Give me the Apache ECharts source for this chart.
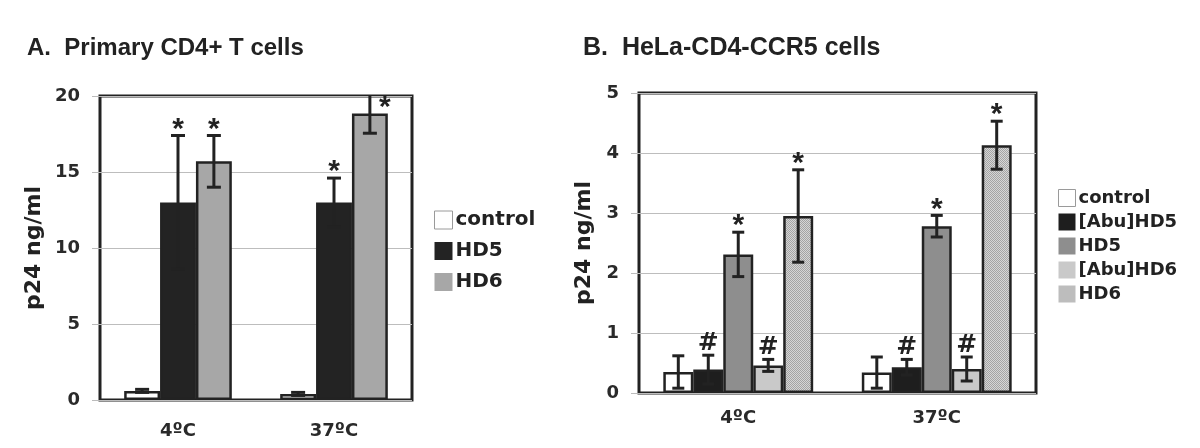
<!DOCTYPE html>
<html><head><meta charset="utf-8">
<script src="https://cdn.jsdelivr.net/npm/echarts@6/dist/echarts.min.js"></script>
<style>html,body{margin:0;padding:0;background:#fff}#c{width:1200px;height:448px}</style>
</head><body><div id="c"></div><script>
// ---------- data ----------
const categories = ['4ºC', '37ºC'];

// Panel A: Primary CD4+ T cells
const namesA = ['control', 'HD5', 'HD6'];
const controlA = [0.6, 0.4];
const hd5A = [13.0, 13.0];
const hd6A = [15.7, 18.85];
const controlAErr = [0.1, 0.1];
const hd5AErr = [4.4, 1.6];
const hd6AErr = [1.7, 1.3];
const controlAMark = ['', ''];
const hd5AMark = ['*', '*'];
const hd6AMark = ['*', '*'];
const ticksA = [0, 5, 10, 15, 20];

// Panel B: HeLa-CD4-CCR5 cells
const namesB = ['control', '[Abu]HD5', 'HD5', '[Abu]HD6', 'HD6'];
const controlB = [0.35, 0.34];
const abuHd5B = [0.39, 0.43];
const hd5B = [2.31, 2.78];
const abuHd6B = [0.46, 0.40];
const hd6B = [2.95, 4.13];
const controlBErr = [0.27, 0.26];
const abuHd5BErr = [0.24, 0.13];
const hd5BErr = [0.37, 0.18];
const abuHd6BErr = [0.10, 0.20];
const hd6BErr = [0.77, 0.40];
const controlBMark = ['', ''];
const abuHd5BMark = ['#', '#'];
const hd5BMark = ['*', '*'];
const abuHd6BMark = ['#', '#'];
const hd6BMark = ['*', '*'];
const ticksB = [0, 1, 2, 3, 4, 5];

const titleA = 'A.  Primary CD4+ T cells';
const titleB = 'B.  HeLa-CD4-CCR5 cells';
const yName = 'p24 ng/ml';

// ---------- styling ----------
const INK = '#222';
const FONT = 'DejaVu Sans';
function dotPattern() {
  const c = document.createElement('canvas');
  c.width = 2; c.height = 2;
  const g = c.getContext('2d');
  g.fillStyle = '#d6d6d6'; g.fillRect(0, 0, 2, 2);
  g.fillStyle = '#a4a4a4'; g.fillRect(0, 0, 1, 1); g.fillRect(1, 1, 1, 1);
  return { image: c, repeat: 'repeat' };
}

const panelA = {
  key: 'A', grid: 0, gap: 0.31, cap: 14,
  names: namesA,
  values: [controlA, hd5A, hd6A],
  errs: [controlAErr, hd5AErr, hd6AErr],
  marks: [controlAMark, hd5AMark, hd6AMark],
  colors: ['#ffffff', '#232323', '#a7a7a7']
};
const panelB = {
  key: 'B', grid: 1, gap: 0.245, cap: 12,
  names: namesB,
  values: [controlB, abuHd5B, hd5B, abuHd6B, hd6B],
  errs: [controlBErr, abuHd5BErr, hd5BErr, abuHd6BErr, hd6BErr],
  marks: [controlBMark, abuHd5BMark, hd5BMark, abuHd6BMark, hd6BMark],
  colors: ['#ffffff', '#1e1e1e', '#8e8e8e', '#c9c9c9', dotPattern()]
};

const series = [];
[panelA, panelB].forEach(p => {
  const n = p.names.length;
  p.names.forEach((nm, i) => {
    series.push({
      type: 'bar', name: p.key + '|' + nm,
      xAxisIndex: p.grid, yAxisIndex: p.grid,
      barGap: '0%', barCategoryGap: (p.gap * 100) + '%',
      itemStyle: { color: p.colors[i], borderColor: INK, borderWidth: 2.5 },
      data: p.values[i], z: 2
    });
  });
  p.names.forEach((nm, i) => {
    const vals = p.values[i], errs = p.errs[i], marks = p.marks[i];
    series.push({
      type: 'custom', name: p.key + '|err|' + nm,
      xAxisIndex: p.grid, yAxisIndex: p.grid, z: 5,
      data: vals.map((v, k) => [k, v, errs[k]]),
      renderItem: function (params, api) {
        const k = api.value(0), v = api.value(1), e = api.value(2);
        const catW = api.size([1, 0])[0];
        const groupW = catW * (1 - p.gap);
        const bw = groupW / n;
        const base = api.coord([k, v]);
        const cx = base[0] - groupW / 2 + (i + 0.5) * bw;
        const cs = params.coordSys;
        const top = api.coord([k, v + e])[1];
        const bot = api.coord([k, v - e])[1];
        const clipTop = Math.max(top, cs.y);
        const half = p.cap / 2;
        const st = { stroke: INK, lineWidth: 3 };
        const children = [
          { type: 'line', shape: { x1: cx, y1: clipTop, x2: cx, y2: bot }, style: st },
          { type: 'line', shape: { x1: cx - half, y1: bot, x2: cx + half, y2: bot }, style: st }
        ];
        if (top >= cs.y) {
          children.push({ type: 'line', shape: { x1: cx - half, y1: top, x2: cx + half, y2: top }, style: st });
        }
        const m = marks[params.dataIndex];
        if (m) {
          const star = m === '*';
          let tx = cx;
          let ty = star ? top + 9 : top + 1;
          if (star && top - 16 < cs.y) { tx = cx + bw / 2 - 3; ty = base[1] + 9; }
          children.push({
            type: 'text', x: tx, y: ty,
            style: {
              text: m, fill: INK, align: 'center', verticalAlign: 'bottom',
              font: star ? 'bold 30px "Liberation Sans"' : 'bold 25px "DejaVu Sans"'
            }
          });
        }
        return { type: 'group', children };
      }
    });
  });
});

function yAxis(grid, max, interval) {
  return {
    type: 'value', gridIndex: grid, min: 0, max: max, interval: interval,
    name: yName, nameLocation: 'middle', nameGap: grid === 0 ? 55 : 44,
    nameTextStyle: { fontFamily: FONT, fontWeight: 'bold', fontSize: 22, color: INK },
    axisLine: { show: false },
    axisTick: { show: true, length: 8, lineStyle: { color: '#bbb' } },
    axisLabel: { margin: 20, fontFamily: FONT, fontWeight: 'bold', fontSize: 18, color: '#2a2a2a' },
    splitLine: { show: true, lineStyle: { color: '#bdbdbd', width: 1 } }
  };
}
function xAxis(grid, margin) {
  return {
    type: 'category', gridIndex: grid, data: categories,
    axisLine: { show: false }, axisTick: { show: false },
    axisLabel: { margin: margin, fontFamily: FONT, fontWeight: 'bold', fontSize: 18, color: '#2a2a2a' }
  };
}
function legendData(p) {
  return p.names.map((nm, i) => ({
    name: p.key + '|' + nm,
    itemStyle: i === 0 ? { borderColor: '#9a9a9a', borderWidth: 1 } : { color: p.colors[i], borderWidth: 0 }
  }));
}

const option = {
  animation: false,
  backgroundColor: '#ffffff',
  title: [
    { text: titleA, left: 22, top: 31, textStyle: { fontFamily: 'Liberation Sans', fontWeight: 'bold', fontSize: 24, color: INK } },
    { text: titleB, left: 578, top: 31, textStyle: { fontFamily: 'Liberation Sans', fontWeight: 'bold', fontSize: 25, color: INK } }
  ],
  grid: [
    { left: 100, top: 96, width: 312, height: 304, show: true, borderColor: INK, borderWidth: 3, backgroundColor: 'transparent' },
    { left: 639, top: 93, width: 397, height: 300, show: true, borderColor: INK, borderWidth: 3, backgroundColor: 'transparent' }
  ],
  xAxis: [xAxis(0, 22), xAxis(1, 16)],
  yAxis: [yAxis(0, ticksA[ticksA.length - 1], ticksA[1] - ticksA[0]), yAxis(1, ticksB[ticksB.length - 1], ticksB[1] - ticksB[0])],
  legend: [
    {
      data: legendData(panelA), orient: 'vertical', left: 429, top: 205,
      itemWidth: 18, itemHeight: 18, itemGap: 11, icon: 'rect', selectedMode: false,
      formatter: s => s.split('|').pop(),
      textStyle: { fontFamily: FONT, fontWeight: 'bold', fontSize: 20, color: INK, padding: [0, 0, 0, -2] }
    },
    {
      data: legendData(panelB), orient: 'vertical', left: 1053, top: 184,
      itemWidth: 17, itemHeight: 17, itemGap: 6, icon: 'rect', selectedMode: false,
      formatter: s => s.split('|').pop(),
      textStyle: { fontFamily: FONT, fontWeight: 'bold', fontSize: 18, color: INK, padding: [0, 0, 0, -2] }
    }
  ],
  series: series
};

const chart = echarts.init(document.getElementById('c'));
chart.setOption(option);
</script></body></html>
